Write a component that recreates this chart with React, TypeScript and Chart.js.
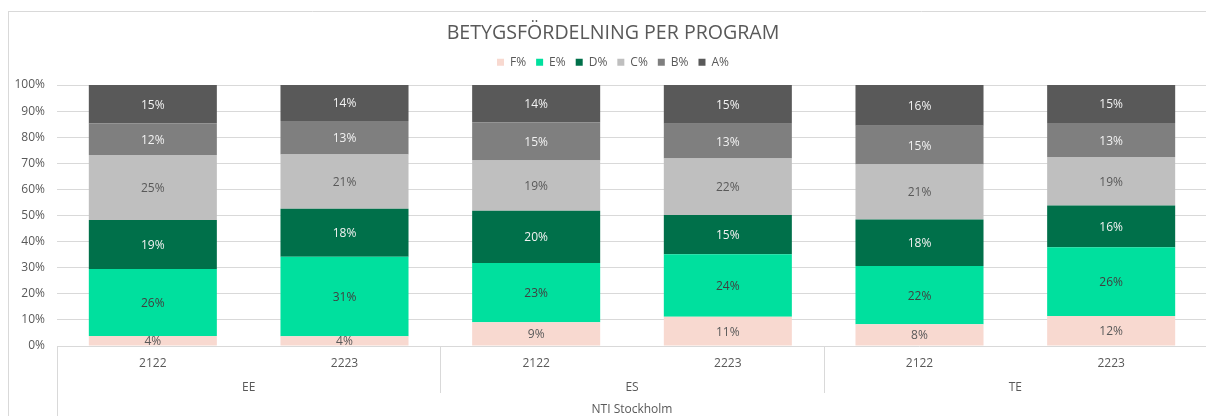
import React, { useEffect, useRef } from 'react';
import { Chart, registerables } from 'chart.js';

Chart.register(...registerables);

// ---- Data ----
const chartTitle = 'BETYGSFÖRDELNING PER PROGRAM';
const schoolName = 'NTI Stockholm';
const programs = ['EE', 'ES', 'TE'];
const years = ['2122', '2223', '2122', '2223', '2122', '2223'];
const seriesNames = ['F%', 'E%', 'D%', 'C%', 'B%', 'A%'];
const yTickValues = [0, 10, 20, 30, 40, 50, 60, 70, 80, 90, 100];

const fValues = [3.8, 3.7, 9.1, 11.2, 8.3, 11.5];
const eValues = [25.7, 30.5, 22.7, 24.0, 22.4, 26.3];
const dValues = [18.8, 18.4, 20.0, 15.0, 17.8, 16.0];
const cValues = [24.9, 20.8, 19.3, 21.6, 21.0, 18.6];
const bValues = [12.1, 12.8, 14.6, 13.4, 14.9, 13.0];
const aValues = [14.7, 13.8, 14.3, 14.8, 15.6, 14.6];

// ---- Styles ----
const seriesColors = ['#F8D9D0', '#00E09E', '#00704A', '#BFBFBF', '#7F7F7F', '#595959'];
const labelColors = ['#595959', '#404040', '#F2F2F2', '#595959', '#F2F2F2', '#F2F2F2'];
const FONT = '"Open Sans", "Noto Sans", sans-serif';
const TEXT = '#595959';
const LINE = '#D9D9D9';
const CANVAS_W = 1226;
const CANVAS_H = 416;

const segmentLabels = {
  id: 'segmentLabels',
  afterDatasetsDraw(chart: any) {
    const ctx = chart.ctx;
    ctx.save();
    ctx.font = `12px ${FONT}`;
    ctx.textAlign = 'center';
    ctx.textBaseline = 'middle';
    chart.data.datasets.forEach((ds: any, di: number) => {
      const meta = chart.getDatasetMeta(di);
      meta.data.forEach((bar: any, i: number) => {
        const p = bar.getProps(['x', 'y', 'base'], true);
        ctx.fillStyle = labelColors[di];
        ctx.fillText(Math.round(ds.data[i]) + '%', p.x, (p.y + p.base) / 2 + 1);
      });
    });
    ctx.restore();
  },
};

const categoryAxis = {
  id: 'categoryAxis',
  beforeDraw(chart: any) {
    const ctx = chart.ctx;
    ctx.save();
    ctx.strokeStyle = LINE;
    ctx.lineWidth = 1;
    ctx.beginPath();
    ctx.moveTo(8.5, 11);
    ctx.lineTo(8.5, chart.height);
    ctx.moveTo(8, 11.5);
    ctx.lineTo(chart.width, 11.5);
    ctx.stroke();
    ctx.restore();
  },
  afterDraw(chart: any) {
    const ctx = chart.ctx;
    const xs = chart.scales.x;
    const area = chart.chartArea;
    const n = years.length;
    const step = (area.right - area.left) / n;
    const base = area.bottom;
    ctx.save();
    ctx.strokeStyle = LINE;
    ctx.lineWidth = 1;
    ctx.beginPath();
    const lx = Math.round(area.left) + 0.5;
    ctx.moveTo(lx, base);
    ctx.lineTo(lx, chart.height);
    for (let g = 1; g < programs.length; g++) {
      const sx = Math.round(area.left + step * 2 * g) + 0.5;
      ctx.moveTo(sx, base);
      ctx.lineTo(sx, base + 47);
    }
    ctx.stroke();

    ctx.fillStyle = TEXT;
    ctx.font = `12px ${FONT}`;
    ctx.textAlign = 'center';
    ctx.textBaseline = 'middle';
    years.forEach((y, i) => {
      ctx.fillText(y, xs.getPixelForValue(i), base + 18);
    });
    programs.forEach((p, g) => {
      const cx = area.left + step * (2 * g + 1);
      ctx.fillText(p, cx, base + 42);
    });
    ctx.fillText(schoolName, (area.left + area.right) / 2, base + 64);
    ctx.restore();
  },
};

export default function App() {
  const ref = useRef<HTMLCanvasElement | null>(null);

  useEffect(() => {
    if (!ref.current) return;
    const values = [fValues, eValues, dValues, cValues, bValues, aValues];
    const chart = new Chart(ref.current, {
      type: 'bar',
      data: {
        labels: years,
        datasets: seriesNames.map((name, i) => ({
          label: name,
          data: values[i],
          backgroundColor: seriesColors[i],
          borderWidth: 0,
          barPercentage: 1,
          categoryPercentage: 0.668,
        })),
      },
      options: {
        responsive: false,
        animation: false,
        devicePixelRatio: 1,
        layout: { padding: { top: 0, left: 0, right: 0, bottom: 0 } },
        plugins: {
          title: {
            display: true,
            text: chartTitle,
            color: TEXT,
            font: { family: FONT, size: 19.6, weight: 'normal', lineHeight: 1.2 },
            padding: { top: 21.6, bottom: 1.2 },
          },
          legend: {
            display: true,
            position: 'top',
            weight: 1800,
            labels: {
              color: TEXT,
              font: { family: FONT, size: 12 },
              boxWidth: 7,
              boxHeight: 7,
              padding: 10,
            },
          } as any,
          subtitle: {
            display: true,
            text: '',
            font: { size: 1, lineHeight: 1 },
            padding: { top: 0, bottom: 5.7 },
          },
          tooltip: { enabled: false },
        },
        scales: {
          x: {
            stacked: true,
            ticks: { display: false },
            grid: { display: false },
            border: { display: false },
            afterFit: (s: any) => {
              s.height = 70;
            },
          },
          y: {
            stacked: true,
            min: 0,
            max: 100,
            afterBuildTicks: (s: any) => {
              s.ticks = yTickValues.map((v) => ({ value: v }));
            },
            ticks: {
              color: TEXT,
              font: { family: FONT, size: 12 },
              padding: 12,
              callback: (v: any) => v + '%',
            },
            grid: { color: LINE, lineWidth: 1, drawTicks: false },
            border: { display: false },
            afterFit: (s: any) => {
              s.width = 57;
            },
          },
          yRight: {
            position: 'right',
            display: true,
            ticks: { display: false },
            grid: { display: false },
            border: { display: false },
            afterFit: (s: any) => {
              s.width = 19;
            },
          },
        },
      },
      plugins: [segmentLabels, categoryAxis],
    });
    return () => chart.destroy();
  }, []);

  return (
    <div style={{ position: 'fixed', left: 0, top: 0, width: 1206, height: 416, overflow: 'hidden', background: '#fff' }}>
      <canvas ref={ref} width={CANVAS_W} height={CANVAS_H} style={{ display: 'block' }} />
    </div>
  );
}
